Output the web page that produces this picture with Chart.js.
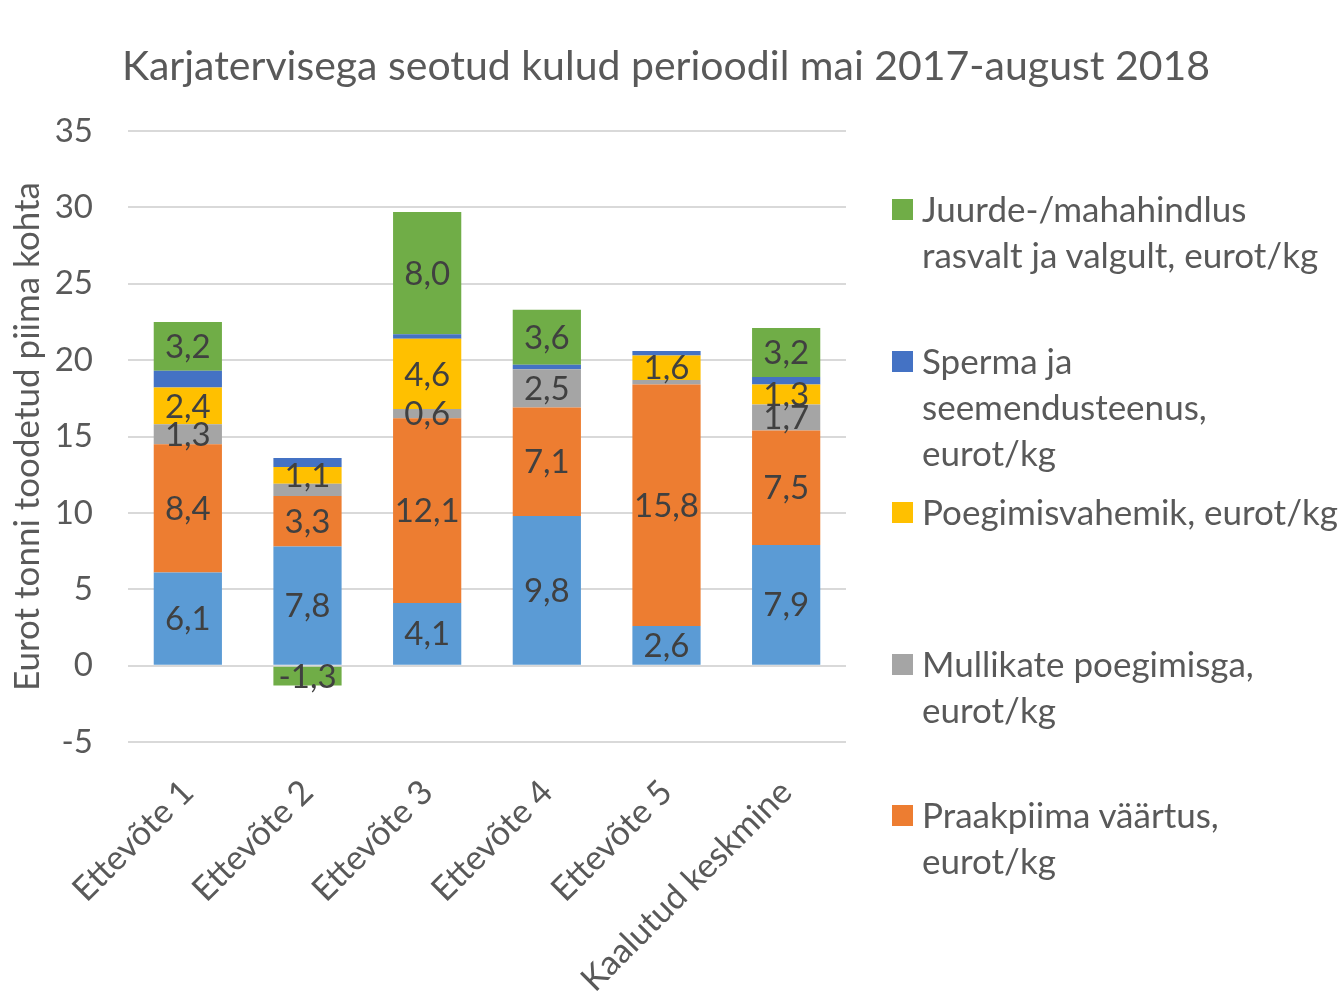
<!DOCTYPE html>
<html>
<head>
<meta charset="utf-8">
<script src="https://cdn.jsdelivr.net/npm/chart.js@4/dist/chart.umd.min.js"></script>
<style>
  html, body { margin: 0; padding: 0; background: #ffffff; }
  #wrap { position: relative; width: 1342px; height: 993px; overflow: hidden; }
  #legend { position: absolute; left: 0; top: 0; }
  .li { position: absolute; font-family: Lato, "Noto Sans", sans-serif; font-size: 35px; line-height: 46px; color: #595959; white-space: nowrap; }
  .sw { position: absolute; width: 21px; height: 21px; }
</style>
</head>
<body>
<div id="wrap">
  <canvas id="c" width="1342" height="993"></canvas>
  <div id="legend"></div>
</div>
<script>
const categories = ["Ettevõte 1", "Ettevõte 2", "Ettevõte 3", "Ettevõte 4", "Ettevõte 5", "Kaalutud keskmine"];

const seriesNames = [
  "Ravimid ja veterinaarteenus, eurot/kg",
  "Praakpiima väärtus, eurot/kg",
  "Mullikate poegimisga, eurot/kg",
  "Poegimisvahemik, eurot/kg",
  "Sperma ja seemendusteenus, eurot/kg",
  "Juurde-/mahahindlus rasvalt ja valgult, eurot/kg"
];
const seriesColors = ["#5B9BD5", "#ED7D31", "#A5A5A5", "#FFC000", "#4472C4", "#70AD47"];

const ravimid     = [6.1, 7.8, 4.1, 9.8, 2.6, 7.9];
const praakpiim   = [8.4, 3.3, 12.1, 7.1, 15.8, 7.5];
const mullikad    = [1.3, 0.8, 0.6, 2.5, 0.3, 1.7];
const poegimine   = [2.4, 1.1, 4.6, 0.0, 1.6, 1.3];
const sperma      = [1.1, 0.6, 0.3, 0.3, 0.3, 0.5];
const juurdehind  = [3.2, -1.3, 8.0, 3.6, 0.0, 3.2];

// which data labels are shown (as in the reference)
const labelsShown = [
  [true, true, true, true, true, true],
  [true, true, true, true, true, true],
  [true, false, true, true, false, true],
  [true, true, true, false, true, true],
  [false, false, false, false, false, false],
  [true, true, true, true, false, true]
];

const yTicks = [-5, 0, 5, 10, 15, 20, 25, 30, 35];
const chartTitle = "Karjatervisega seotud kulud perioodil mai 2017-august 2018";
const yTitle = "Eurot tonni toodetud piima kohta";

// legend lines as displayed (top to bottom)
const legendItems = [
  { s: 5, lines: ["Juurde-/mahahindlus", "rasvalt ja valgult, eurot/kg"] },
  { s: 4, lines: ["Sperma ja", "seemendusteenus,", "eurot/kg"] },
  { s: 3, lines: ["Poegimisvahemik, eurot/kg"] },
  { s: 2, lines: ["Mullikate poegimisga,", "eurot/kg"] },
  { s: 1, lines: ["Praakpiima väärtus,", "eurot/kg"] }
];

const allSeries = [ravimid, praakpiim, mullikad, poegimine, sperma, juurdehind];

const FONT = "Lato, 'Noto Sans', sans-serif";

const dataLabelPlugin = {
  id: 'dataLabels',
  afterDatasetsDraw(chart) {
    const ctx = chart.ctx;
    ctx.save();
    ctx.font = "33px " + FONT;
    ctx.fillStyle = "#404040";
    ctx.textAlign = "center";
    ctx.textBaseline = "middle";
    chart.data.datasets.forEach((ds, di) => {
      const meta = chart.getDatasetMeta(di);
      meta.data.forEach((el, i) => {
        const v = ds.data[i];
        if (!labelsShown[di][i] || v === 0) return;
        const p = el.getCenterPoint();
        ctx.fillText(v.toFixed(1).replace('.', ','), p.x, p.y + 1);
      });
    });
    ctx.restore();
  }
};

const titlePlugin = {
  id: 'customTitle',
  afterDraw(chart) {
    const ctx = chart.ctx;
    ctx.save();
    ctx.font = "41px " + FONT;
    ctx.fillStyle = "#595959";
    ctx.textAlign = "center";
    ctx.textBaseline = "middle";
    ctx.fillText(chartTitle, 666, 67);
    ctx.restore();
  }
};

new Chart(document.getElementById('c'), {
  type: 'bar',
  data: {
    labels: categories,
    datasets: allSeries.map((arr, i) => ({
      label: seriesNames[i],
      data: arr,
      backgroundColor: seriesColors[i],
      borderWidth: 0,
      barPercentage: 0.57,
      categoryPercentage: 1.0
    }))
  },
  options: {
    responsive: false,
    animation: false,
    layout: { padding: { left: 0, right: 496, top: 131, bottom: 0 } },
    plugins: {
      legend: { display: false },
      title: { display: false },
      tooltip: { enabled: false }
    },
    scales: {
      x: {
        stacked: true,
        grid: { display: false, drawTicks: false },
        border: { display: false },
        ticks: {
          font: { family: FONT, size: 34 },
          color: "#595959",
          minRotation: 45,
          maxRotation: 45,
          padding: 30
        },
        afterFit(s) { s.height = 251; }
      },
      y: {
        stacked: true,
        min: -5,
        max: 35,
        afterBuildTicks(s) { s.ticks = yTicks.map(v => ({ value: v })); },
        grid: { color: "#D9D9D9", lineWidth: 2, drawTicks: false },
        border: { display: false },
        ticks: {
          font: { family: FONT, size: 33 },
          color: "#595959",
          padding: 35
        },
        title: {
          display: true,
          text: yTitle,
          font: { family: FONT, size: 35 },
          color: "#595959",
          padding: { top: 7, bottom: 0 }
        },
        afterFit(s) { s.width = 128; }
      }
    }
  },
  plugins: [dataLabelPlugin, titlePlugin]
});

// HTML legend built from series definitions
const legendTops = [185, 337, 488, 640, 791];
const lg = document.getElementById('legend');
legendItems.forEach((it, k) => {
  const sw = document.createElement('div');
  sw.className = 'sw';
  sw.style.left = '892px';
  sw.style.top = (legendTops[k] + 14) + 'px';
  sw.style.background = seriesColors[it.s];
  lg.appendChild(sw);
  it.lines.forEach((ln, j) => {
    const d = document.createElement('div');
    d.className = 'li';
    d.style.left = '922px';
    d.style.top = (legendTops[k] + j * 46) + 'px';
    d.textContent = ln;
    lg.appendChild(d);
  });
});
</script>
</body>
</html>
